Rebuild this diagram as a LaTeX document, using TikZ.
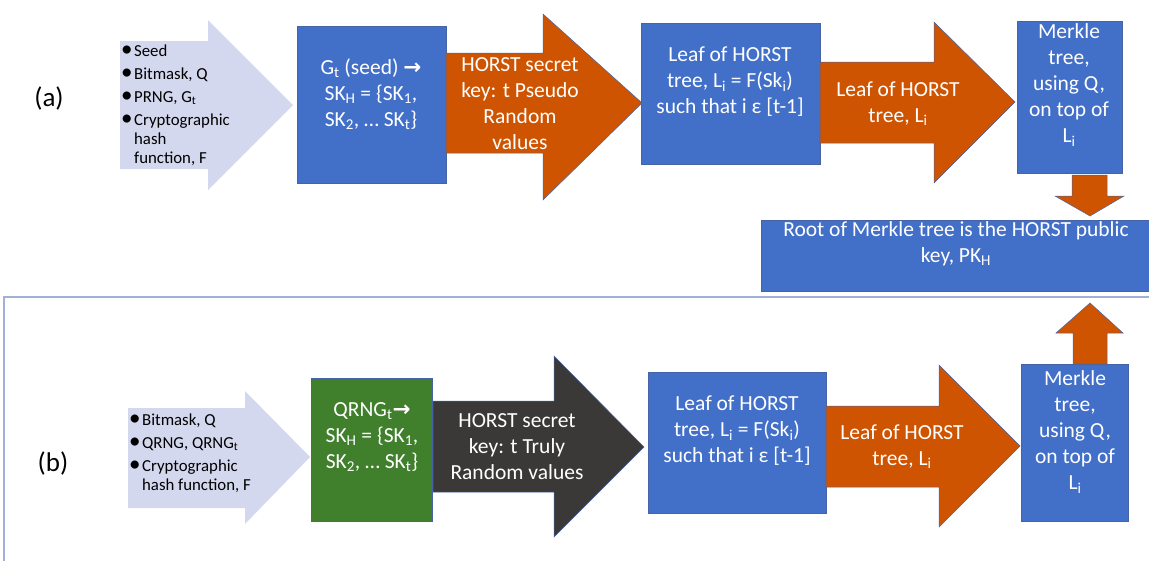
\documentclass[tikz,border=0pt]{standalone}
\usepackage{fontspec}
\setmainfont{Carlito}
\newfontfamily\arrowglyph{DejaVu Sans}
\definecolor{boxblue}{RGB}{66,111,200}
\definecolor{keyorange}{RGB}{206,84,2}
\definecolor{qgreen}{RGB}{64,127,44}
\definecolor{keydark}{RGB}{59,56,56}
\definecolor{inputlav}{RGB}{212,216,238}
\definecolor{outline}{RGB}{70,100,165}
\definecolor{framecol}{RGB}{160,176,216}
% larger list bullet
\newcommand\listdot{{\fontsize{23}{19}\selectfont\textbullet}}
\tikzset{
  shapeline/.style={draw=outline, line width=0.5pt},
  bluebox/.style={shapeline, fill=boxblue},
  whitetext/.style={text=white, align=center, inner sep=0pt,
    font=\fontsize{21.5}{26}\selectfont},
  listtext/.style={text=black, inner sep=0pt, anchor=base west,
    font=\fontsize{16.8}{19}\selectfont},
  panellabel/.style={text=black, inner sep=0pt, font=\fontsize{27}{30}\selectfont}
}
\begin{document}
\begin{tikzpicture}[x=1pt,y=-1pt]
\useasboundingbox (0,0) rectangle (1149,560);

% frame of panel (b)
\draw[framecol, line width=1.6pt] (4,1170) -- (4,297) -- (1170,297);

% ---------------- panel (a) ----------------
\node[panellabel] (la) at (49,98) {(a)};

% input arrow
\fill[inputlav] (120,41) -- (208,41) -- (208,20) -- (293,105) -- (208,190) -- (208,169) -- (120,169) -- cycle;
\node[listtext] (ina) at (121,56) {%
  \begin{tabular}[t]{@{}l@{\hspace{1.5pt}}l@{}}
  \listdot & Seed\\[4pt]
  \listdot & Bitmask, Q\\[4pt]
  \listdot & PRNG, G\textsubscript{t}\\[4pt]
  \listdot & Cryptographic\\
  & hash\\
  & function, F
  \end{tabular}};

% generator box
\path[bluebox] (297,26) rectangle (446,183);
\node[whitetext] (gen) at (371,94) {G\textsubscript{t} (seed) {\arrowglyph\bfseries →}\\SK\textsubscript{H} = \{SK\textsubscript{1},\\SK\textsubscript{2}, … SK\textsubscript{t}\}};

% secret key arrow
\path[shapeline, fill=keyorange] (446,53) -- (543,53) -- (543,14) -- (642,103) -- (543,200) -- (543,153) -- (446,153) -- cycle;
\node[whitetext] (ska) at (520,104) {HORST secret\\key: t Pseudo\\Random\\values};

% leaf box
\path[bluebox] (641,23) rectangle (820,164);
\node[whitetext] (leafa) at (730,82) {Leaf of HORST\\tree, L\textsubscript{i} = F(Sk\textsubscript{i})\\such that i ε [t-1]};

% leaf arrow
\path[shapeline, fill=keyorange] (820,62) -- (934,62) -- (934,22) -- (1015,102) -- (934,183) -- (934,143) -- (820,143) -- cycle;
\node[whitetext] (lfa) at (898,104) {Leaf of HORST\\tree, L\textsubscript{i}};

% Merkle box
\path[bluebox] (1017,21) rectangle (1122,173);
\node[whitetext] (mka) at (1069,85) {Merkle\\tree,\\using Q,\\on top of\\L\textsubscript{i}};

% down arrow to root
\path[shapeline, fill=keyorange] (1072,175) -- (1107,175) -- (1107,196) -- (1124,196) -- (1090,216) -- (1055,196) -- (1072,196) -- cycle;

% root box
\path[bluebox] (761,220) rectangle (1155,291);
\node[whitetext] (root) at (956,244) {Root of Merkle tree is the HORST public\\key, PK\textsubscript{H}};

% ---------------- panel (b) ----------------
\node[panellabel] (lb) at (53,463) {(b)};

% input arrow
\fill[inputlav] (128,408) -- (245,408) -- (245,391) -- (310,457) -- (245,524) -- (245,508) -- (128,508) -- cycle;
\node[listtext] (inb) at (129,425) {%
  \begin{tabular}[t]{@{}l@{\hspace{1.5pt}}l@{}}
  \listdot & Bitmask, Q\\[4pt]
  \listdot & QRNG, QRNG\textsubscript{t}\\[4pt]
  \listdot & Cryptographic\\
  & hash function, F
  \end{tabular}};

% quantum generator box
\path[shapeline, fill=qgreen] (311,378) rectangle (432,521);
\node[whitetext] (qgen) at (372,437) {QRNG\textsubscript{t}{\arrowglyph\bfseries →}\\SK\textsubscript{H} = \{SK\textsubscript{1},\\SK\textsubscript{2}, … SK\textsubscript{t}\}};

% secret key arrow
\path[shapeline, fill=keydark] (433,401) -- (554,401) -- (554,356) -- (644,447) -- (554,537) -- (554,492) -- (433,492) -- cycle;
\node[whitetext] (skb) at (517,447) {HORST secret\\key: t Truly\\Random values};

% leaf box
\path[bluebox] (648,372) rectangle (826,513);
\node[whitetext] (leafb) at (737,431) {Leaf of HORST\\tree, L\textsubscript{i} = F(Sk\textsubscript{i})\\such that i ε [t-1]};

% leaf arrow
\path[shapeline, fill=keyorange] (826,406) -- (939,406) -- (939,365) -- (1020,446) -- (939,527) -- (939,487) -- (826,487) -- cycle;
\node[whitetext] (lfb) at (902,447) {Leaf of HORST\\tree, L\textsubscript{i}};

% Merkle box
\path[bluebox] (1021,364) rectangle (1128,521);
\node[whitetext] (mkb) at (1075,432) {Merkle\\tree,\\using Q,\\on top of\\L\textsubscript{i}};

% up arrow to root
\path[shapeline, fill=keyorange] (1073,364) -- (1107,364) -- (1107,333) -- (1123,333) -- (1090,303) -- (1056,333) -- (1073,333) -- cycle;
\end{tikzpicture}
\end{document}
